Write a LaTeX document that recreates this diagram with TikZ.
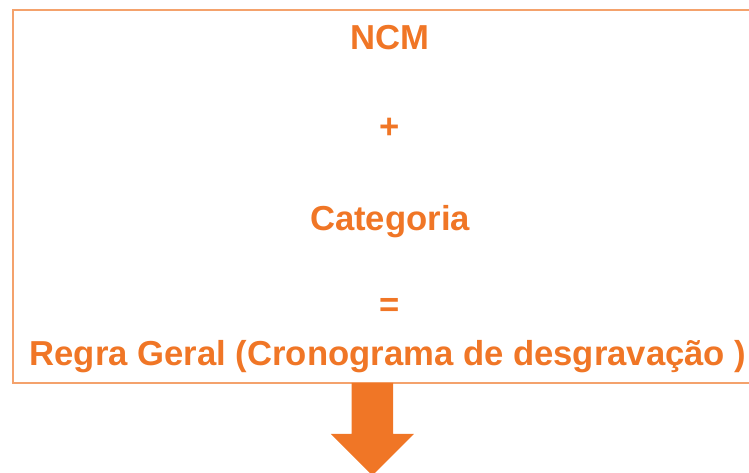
\documentclass[tikz,border=0pt]{standalone}
\usepackage{fontspec}
\setmainfont{Liberation Sans}
\usetikzlibrary{calc}
\definecolor{ncmorange}{RGB}{240,118,38}
\definecolor{frameorange}{RGB}{244,162,108}
\tikzset{
  rulebox/.style = {draw=frameorange, line width=0.9pt},
  ruletext/.style = {inner sep=0pt, text=ncmorange, font=\fontsize{20.8}{24}\selectfont\bfseries},
  downarrow/.style = {fill=ncmorange, draw=none}
}

\begin{document}
\begin{tikzpicture}[x=0.6pt, y=-0.6pt]
	\useasboundingbox (0,0) rectangle (749,473);
	% frame, cut at the right edge
	\coordinate (boxtl) at (13,10);
	\coordinate (boxbr) at (800,383);
	\draw [rulebox] (boxtl) rectangle (boxbr);
	% texts
	\node [ruletext, anchor=base] (ncm) at (390,49.5) {NCM};
	\node [ruletext] (plus) at (390,128) {+};
	\node [ruletext, anchor=base] (cat) at (390,230.5) {Categoria};
	\node [ruletext] (eq) at (390,307.5) {=};
	\node [ruletext, anchor=base] (regra) at (388,365.5) {Regra Geral (Cronograma de desgravação )};
	% arrow below the frame
	\coordinate (arrtop) at (372.3,383);
	\fill [downarrow] ($(arrtop)+(-20.7,0)$) -- ($(arrtop)+(20.7,0)$)
		-- ($(arrtop)+(20.7,51)$) -- ($(arrtop)+(41.5,51)$)
		-- ($(arrtop)+(0,92.5)$) -- ($(arrtop)+(-41.5,51)$)
		-- ($(arrtop)+(-20.7,51)$) -- cycle;
\end{tikzpicture}
\end{document}
